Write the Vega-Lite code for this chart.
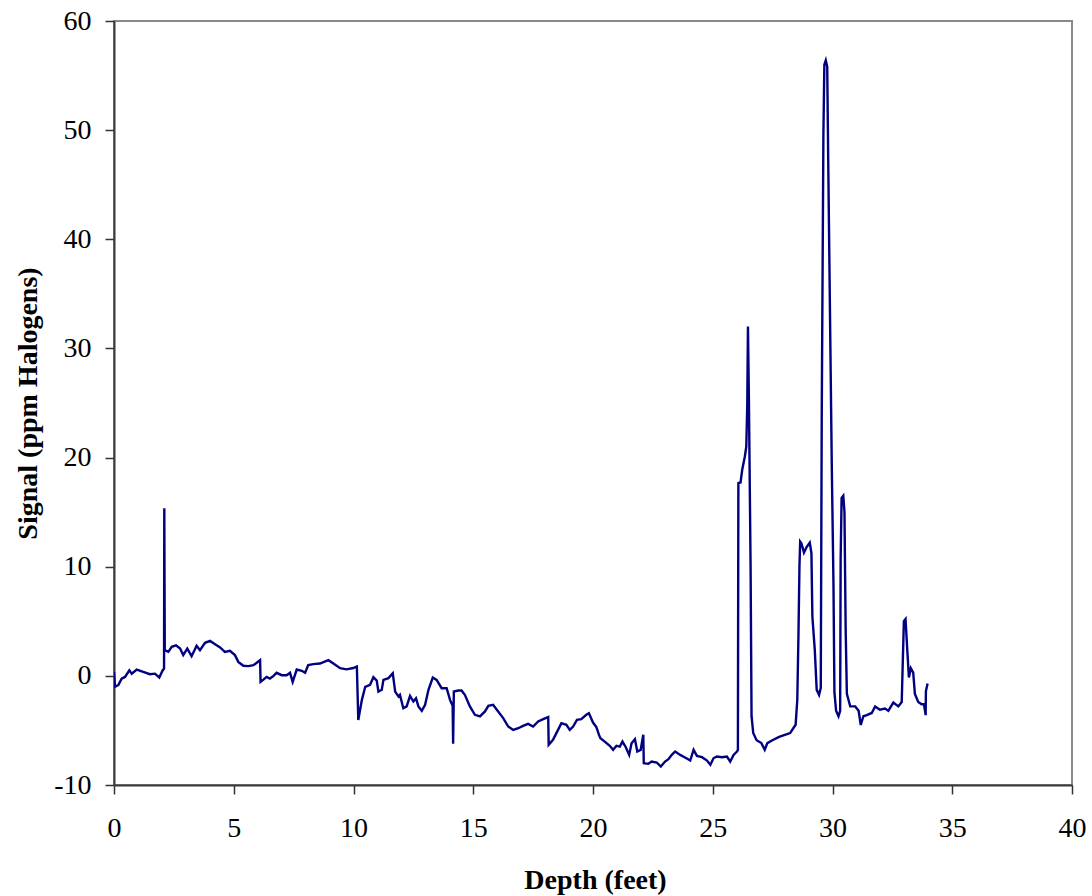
{
  "$schema": "https://vega.github.io/schema/vega-lite/v6.json",
  "width": 958,
  "height": 764,
  "autosize": {"type": "none"},
  "padding": {"left": 114, "top": 21, "right": 20, "bottom": 111},
  "background": "white",
  "config": {
    "view": {"stroke": "#8a8a8a", "strokeWidth": 2},
    "axis": {
      "grid": false,
      "labelFont": "Liberation Serif",
      "labelFontSize": 28,
      "labelColor": "black",
      "labelFlush": false,
      "labelOverlap": false,
      "titleFont": "Liberation Serif",
      "titleFontSize": 28,
      "titleFontWeight": "bold",
      "titleColor": "black",
      "domainColor": "#3a3a3a",
      "domainWidth": 2,
      "tickColor": "#333333",
      "tickWidth": 1.5,
      "tickSize": 9
    }
  },
  "data": {
    "values": [
      {"depth": 0, "signal": 0.37}, {"depth": 0.04, "signal": -1.0}, {"depth": 0.18, "signal": -0.85},
      {"depth": 0.32, "signal": -0.25}, {"depth": 0.46, "signal": -0.1}, {"depth": 0.64, "signal": 0.5},
      {"depth": 0.74, "signal": 0.2}, {"depth": 0.95, "signal": 0.58}, {"depth": 1.22, "signal": 0.37},
      {"depth": 1.5, "signal": 0.15}, {"depth": 1.71, "signal": 0.2}, {"depth": 1.89, "signal": -0.15},
      {"depth": 2.03, "signal": 0.5}, {"depth": 2.09, "signal": 0.67}, {"depth": 2.1, "signal": 15.35},
      {"depth": 2.12, "signal": 2.35}, {"depth": 2.27, "signal": 2.2}, {"depth": 2.41, "signal": 2.66},
      {"depth": 2.59, "signal": 2.8}, {"depth": 2.76, "signal": 2.5}, {"depth": 2.89, "signal": 1.9},
      {"depth": 3.06, "signal": 2.5}, {"depth": 3.24, "signal": 1.8}, {"depth": 3.45, "signal": 2.75},
      {"depth": 3.59, "signal": 2.35}, {"depth": 3.8, "signal": 3.03}, {"depth": 4.01, "signal": 3.2},
      {"depth": 4.22, "signal": 2.9}, {"depth": 4.43, "signal": 2.6}, {"depth": 4.63, "signal": 2.2},
      {"depth": 4.84, "signal": 2.3}, {"depth": 5.05, "signal": 1.9}, {"depth": 5.19, "signal": 1.28},
      {"depth": 5.4, "signal": 0.92}, {"depth": 5.61, "signal": 0.89}, {"depth": 5.82, "signal": 0.98},
      {"depth": 5.96, "signal": 1.2}, {"depth": 6.1, "signal": 1.44}, {"depth": 6.12, "signal": -0.55},
      {"depth": 6.24, "signal": -0.34}, {"depth": 6.37, "signal": -0.1}, {"depth": 6.51, "signal": -0.25},
      {"depth": 6.65, "signal": -0.03}, {"depth": 6.79, "signal": 0.28}, {"depth": 7.0, "signal": 0.06},
      {"depth": 7.21, "signal": 0.06}, {"depth": 7.35, "signal": 0.28}, {"depth": 7.46, "signal": -0.55},
      {"depth": 7.63, "signal": 0.58}, {"depth": 7.84, "signal": 0.46}, {"depth": 7.98, "signal": 0.28},
      {"depth": 8.11, "signal": 0.98}, {"depth": 8.32, "signal": 1.07}, {"depth": 8.6, "signal": 1.13},
      {"depth": 8.95, "signal": 1.44}, {"depth": 9.16, "signal": 1.13}, {"depth": 9.44, "signal": 0.7},
      {"depth": 9.71, "signal": 0.6}, {"depth": 9.99, "signal": 0.72}, {"depth": 10.14, "signal": 0.86},
      {"depth": 10.2, "signal": -4.05}, {"depth": 10.35, "signal": -2.2}, {"depth": 10.49, "signal": -1.0},
      {"depth": 10.69, "signal": -0.83}, {"depth": 10.83, "signal": -0.12}, {"depth": 10.97, "signal": -0.43},
      {"depth": 11.04, "signal": -1.44}, {"depth": 11.18, "signal": -1.28}, {"depth": 11.25, "signal": -0.37},
      {"depth": 11.46, "signal": -0.21}, {"depth": 11.64, "signal": 0.24}, {"depth": 11.74, "signal": -1.44},
      {"depth": 11.88, "signal": -1.9}, {"depth": 11.94, "signal": -1.74}, {"depth": 12.08, "signal": -2.97},
      {"depth": 12.22, "signal": -2.8}, {"depth": 12.36, "signal": -1.83}, {"depth": 12.5, "signal": -2.35},
      {"depth": 12.61, "signal": -2.05}, {"depth": 12.71, "signal": -2.8}, {"depth": 12.85, "signal": -3.2},
      {"depth": 12.99, "signal": -2.65}, {"depth": 13.13, "signal": -1.28}, {"depth": 13.31, "signal": -0.15},
      {"depth": 13.47, "signal": -0.37}, {"depth": 13.68, "signal": -1.13}, {"depth": 13.89, "signal": -1.13},
      {"depth": 14.03, "signal": -2.2}, {"depth": 14.14, "signal": -2.75}, {"depth": 14.16, "signal": -6.23},
      {"depth": 14.19, "signal": -1.44}, {"depth": 14.38, "signal": -1.34}, {"depth": 14.51, "signal": -1.34},
      {"depth": 14.65, "signal": -1.74}, {"depth": 14.86, "signal": -2.8}, {"depth": 15.07, "signal": -3.57},
      {"depth": 15.28, "signal": -3.72}, {"depth": 15.49, "signal": -3.26}, {"depth": 15.63, "signal": -2.75},
      {"depth": 15.83, "signal": -2.65}, {"depth": 16.04, "signal": -3.26}, {"depth": 16.25, "signal": -3.87},
      {"depth": 16.46, "signal": -4.64}, {"depth": 16.67, "signal": -4.95}, {"depth": 16.88, "signal": -4.8},
      {"depth": 17.08, "signal": -4.58}, {"depth": 17.29, "signal": -4.4}, {"depth": 17.5, "signal": -4.64},
      {"depth": 17.71, "signal": -4.18}, {"depth": 17.92, "signal": -3.97}, {"depth": 18.13, "signal": -3.78},
      {"depth": 18.15, "signal": -6.32}, {"depth": 18.33, "signal": -5.86}, {"depth": 18.54, "signal": -4.95},
      {"depth": 18.68, "signal": -4.34}, {"depth": 18.89, "signal": -4.49}, {"depth": 19.03, "signal": -4.95},
      {"depth": 19.17, "signal": -4.64}, {"depth": 19.33, "signal": -4.03}, {"depth": 19.51, "signal": -3.97},
      {"depth": 19.72, "signal": -3.57}, {"depth": 19.83, "signal": -3.42}, {"depth": 20.0, "signal": -4.28},
      {"depth": 20.14, "signal": -4.7}, {"depth": 20.25, "signal": -5.41}, {"depth": 20.31, "signal": -5.71},
      {"depth": 20.49, "signal": -6.02}, {"depth": 20.7, "signal": -6.41}, {"depth": 20.84, "signal": -6.78},
      {"depth": 20.98, "signal": -6.41}, {"depth": 21.12, "signal": -6.48}, {"depth": 21.23, "signal": -6.02},
      {"depth": 21.37, "signal": -6.54}, {"depth": 21.51, "signal": -7.24}, {"depth": 21.61, "signal": -6.17},
      {"depth": 21.75, "signal": -5.8}, {"depth": 21.85, "signal": -6.93}, {"depth": 21.99, "signal": -6.78},
      {"depth": 22.1, "signal": -5.4}, {"depth": 22.12, "signal": -8.0}, {"depth": 22.31, "signal": -8.06},
      {"depth": 22.45, "signal": -7.85}, {"depth": 22.66, "signal": -7.94}, {"depth": 22.83, "signal": -8.31},
      {"depth": 23.01, "signal": -7.85}, {"depth": 23.15, "signal": -7.64}, {"depth": 23.29, "signal": -7.24},
      {"depth": 23.43, "signal": -6.93}, {"depth": 23.64, "signal": -7.24}, {"depth": 23.9, "signal": -7.55},
      {"depth": 24.06, "signal": -7.76}, {"depth": 24.2, "signal": -6.78}, {"depth": 24.34, "signal": -7.33},
      {"depth": 24.55, "signal": -7.45}, {"depth": 24.76, "signal": -7.76}, {"depth": 24.9, "signal": -8.15},
      {"depth": 25.03, "signal": -7.55}, {"depth": 25.17, "signal": -7.39}, {"depth": 25.38, "signal": -7.45},
      {"depth": 25.59, "signal": -7.39}, {"depth": 25.73, "signal": -7.85}, {"depth": 25.87, "signal": -7.24},
      {"depth": 26.01, "signal": -6.93}, {"depth": 26.05, "signal": -6.78}, {"depth": 26.07, "signal": 17.66},
      {"depth": 26.16, "signal": 17.72}, {"depth": 26.23, "signal": 18.88}, {"depth": 26.34, "signal": 20.1},
      {"depth": 26.4, "signal": 21.0}, {"depth": 26.44, "signal": 24.7}, {"depth": 26.47, "signal": 32.0},
      {"depth": 26.51, "signal": 25.3}, {"depth": 26.58, "signal": 10.0}, {"depth": 26.62, "signal": -3.7},
      {"depth": 26.69, "signal": -5.24}, {"depth": 26.83, "signal": -5.9}, {"depth": 27.03, "signal": -6.16},
      {"depth": 27.17, "signal": -6.77}, {"depth": 27.28, "signal": -6.16}, {"depth": 27.49, "signal": -5.9},
      {"depth": 27.77, "signal": -5.6}, {"depth": 28.04, "signal": -5.39}, {"depth": 28.23, "signal": -5.24},
      {"depth": 28.37, "signal": -4.78}, {"depth": 28.46, "signal": -4.48}, {"depth": 28.53, "signal": -2.19},
      {"depth": 28.58, "signal": 3.92}, {"depth": 28.62, "signal": 10.02}, {"depth": 28.65, "signal": 12.3},
      {"depth": 28.7, "signal": 12.15}, {"depth": 28.81, "signal": 11.3}, {"depth": 28.92, "signal": 11.8},
      {"depth": 29.05, "signal": 12.2}, {"depth": 29.12, "signal": 11.24}, {"depth": 29.16, "signal": 5.44},
      {"depth": 29.26, "signal": 2.38}, {"depth": 29.34, "signal": -1.28}, {"depth": 29.44, "signal": -1.74},
      {"depth": 29.51, "signal": -1.1}, {"depth": 29.55, "signal": 23.6}, {"depth": 29.62, "signal": 49.6},
      {"depth": 29.66, "signal": 56.0}, {"depth": 29.72, "signal": 56.4}, {"depth": 29.78, "signal": 55.8},
      {"depth": 29.82, "signal": 47.5}, {"depth": 29.9, "signal": 32.3}, {"depth": 29.97, "signal": 19.3},
      {"depth": 30.04, "signal": 8.5}, {"depth": 30.08, "signal": -1.5}, {"depth": 30.15, "signal": -3.2},
      {"depth": 30.25, "signal": -3.7}, {"depth": 30.32, "signal": -3.2}, {"depth": 30.34, "signal": 10.67},
      {"depth": 30.38, "signal": 16.3}, {"depth": 30.45, "signal": 16.5}, {"depth": 30.5, "signal": 15.0},
      {"depth": 30.55, "signal": 4.2}, {"depth": 30.6, "signal": -1.65}, {"depth": 30.74, "signal": -2.8},
      {"depth": 30.95, "signal": -2.8}, {"depth": 31.09, "signal": -3.2}, {"depth": 31.18, "signal": -4.5},
      {"depth": 31.29, "signal": -3.7}, {"depth": 31.43, "signal": -3.6}, {"depth": 31.64, "signal": -3.4},
      {"depth": 31.78, "signal": -2.8}, {"depth": 31.98, "signal": -3.1}, {"depth": 32.19, "signal": -3.0},
      {"depth": 32.33, "signal": -3.2}, {"depth": 32.54, "signal": -2.45}, {"depth": 32.75, "signal": -2.8},
      {"depth": 32.89, "signal": -2.4}, {"depth": 32.98, "signal": 5.0}, {"depth": 33.05, "signal": 5.2},
      {"depth": 33.12, "signal": 2.45}, {"depth": 33.19, "signal": -0.15}, {"depth": 33.27, "signal": 0.7},
      {"depth": 33.37, "signal": 0.3}, {"depth": 33.44, "signal": -1.65}, {"depth": 33.58, "signal": -2.4},
      {"depth": 33.72, "signal": -2.6}, {"depth": 33.82, "signal": -2.6}, {"depth": 33.89, "signal": -3.6},
      {"depth": 33.9, "signal": -1.4}, {"depth": 33.97, "signal": -0.7}
    ]
  },
  "mark": {"type": "line", "color": "#000080", "strokeWidth": 2.4, "clip": true},
  "encoding": {
    "x": {
      "field": "depth",
      "type": "quantitative",
      "scale": {"domain": [0, 40], "nice": false, "zero": false},
      "axis": {
        "title": "Depth (feet)",
        "values": [0, 5, 10, 15, 20, 25, 30, 35, 40],
        "labelBaseline": "middle",
        "labelPadding": 34,
        "titleBaseline": "alphabetic",
        "titleX": 481,
        "titleY": 103
      }
    },
    "y": {
      "field": "signal",
      "type": "quantitative",
      "scale": {"domain": [-10, 60], "nice": false, "zero": false},
      "axis": {
        "title": "Signal (ppm Halogens)",
        "values": [-10, 0, 10, 20, 30, 40, 50, 60],
        "labelExpr": "datum.value < 0 ? '-' + abs(datum.value) : '' + datum.value",
        "labelPadding": 14,
        "titleBaseline": "middle",
        "titleX": -86,
        "titleY": 382
      }
    }
  }
}
